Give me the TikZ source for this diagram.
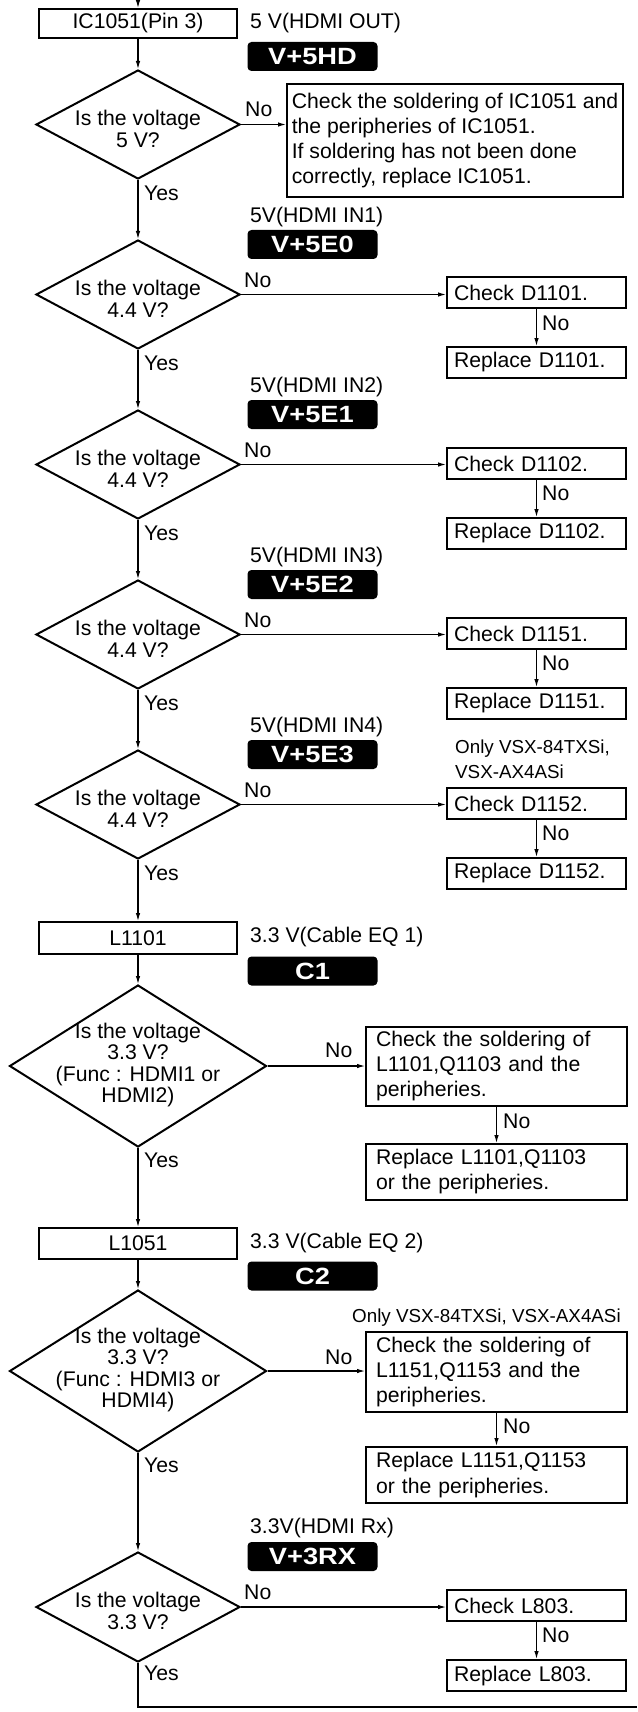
\documentclass[tikz,border=0pt]{standalone}
\usepackage{fontspec}
\usepackage{graphicx}
\setmainfont{Liberation Sans}
\usetikzlibrary{shapes.geometric,arrows.meta}
\newcommand{\tagtxt}[1]{\scalebox{1.16}[1]{#1}}
\begin{document}
\begin{tikzpicture}[x=1pt,y=-1pt,
  every node/.style={font=\fontsize{21.2}{25}\selectfont},
  carrow/.style={line width=1.1pt,-{Latex[length=8pt,width=4.5pt]}},
  cline/.style={line width=1.1pt},
  cbox/.style={draw,line width=2pt,rectangle,inner xsep=7pt,inner ysep=0pt,align=left},
  sbox/.style={cbox,minimum width=179pt,minimum height=31pt,text width=165pt},
  wbox/.style={cbox,inner xsep=10pt,minimum width=261pt,text width=241pt},
  mbox/.style={draw,line width=2pt,rectangle,inner sep=0pt,minimum width=198pt,align=center},
  cdia/.style={draw,line width=2pt,diamond,inner sep=0pt,minimum width=204pt,minimum height=109pt},
  bdia/.style={draw,line width=2pt,diamond,inner sep=0pt,minimum width=257pt,minimum height=162pt},
  dtext/.style={align=center,inner sep=0pt,font=\fontsize{21.2}{22}\selectfont},
  clabel/.style={anchor=west,inner sep=0pt},
  slabel/.style={anchor=west,inner sep=0pt,align=left,font=\fontsize{18.8}{25}\selectfont},
  ctag/.style={fill=black,rounded corners=4pt,minimum width=130pt,minimum height=29pt,inner sep=0pt,text=white,font=\fontsize{23.5}{23.5}\selectfont\bfseries},
]
\useasboundingbox (0,0) rectangle (637,1712);

% ---------- stage 1 ----------
\coordinate (top) at (138,0);
\node[mbox,minimum height=29pt] (ic) at (138,23.5) {IC1051(Pin 3)};
\node[clabel] (t1) at (250,23) {5 V(HDMI OUT)};
\node[ctag] (g1) at (312.5,56.5) {\tagtxt{V+5HD}};
\node[cdia] (d1) at (138,124.5) {};
\node[dtext] (q1) at (138,129) {Is the voltage\\5 V?};
\node[draw,line width=2pt,rectangle,inner sep=0pt,align=left,minimum width=336pt,minimum height=113pt] (c1) at (455,140.5)
  {Check the soldering of IC1051 and\\the peripheries of IC1051.\\If soldering has not been done\\correctly, replace IC1051.};
\node[clabel] (n1) at (245,109) {No};
\node[clabel] (y1) at (144,193) {Yes};
\draw[carrow] (top) -- (ic.north);
\draw[carrow] (ic.south) -- (d1.north);
\draw[carrow] (d1.east) -- (d1.east -| c1.west);

% ---------- stage 2 ----------
\node[clabel] (t2) at (250,217.5) {5V(HDMI IN1)};
\node[ctag] (g2) at (312.5,244.5) {\tagtxt{V+5E0}};
\node[cdia] (d2) at (138,294.5) {};
\node[dtext] (q2) at (138,299) {Is the voltage\\4.4 V?};
\node[clabel] (n2) at (244,280) {No};
\node[sbox] (c2) at (536.5,292.5) {Check D1101.};
\node[sbox] (r2) at (536.5,362.5) {Replace D1101.};
\node[clabel] (m2) at (542,323) {No};
\node[clabel] (y2) at (144,363) {Yes};
\draw[carrow] (d1.south) -- (d2.north);
\draw[carrow] (d2.east) -- (d2.east -| c2.west);
\draw[carrow] (c2.south) -- (r2.north);

% ---------- stage 3 ----------
\node[clabel] (t3) at (250,387.5) {5V(HDMI IN2)};
\node[ctag] (g3) at (312.5,414.5) {\tagtxt{V+5E1}};
\node[cdia] (d3) at (138,464.5) {};
\node[dtext] (q3) at (138,469) {Is the voltage\\4.4 V?};
\node[clabel] (n3) at (244,450) {No};
\node[sbox] (c3) at (536.5,463.5) {Check D1102.};
\node[sbox] (r3) at (536.5,533.5) {Replace D1102.};
\node[clabel] (m3) at (542,493) {No};
\node[clabel] (y3) at (144,533) {Yes};
\draw[carrow] (d2.south) -- (d3.north);
\draw[carrow] (d3.east) -- (d3.east -| c3.west);
\draw[carrow] (c3.south) -- (r3.north);

% ---------- stage 4 ----------
\node[clabel] (t4) at (250,557.5) {5V(HDMI IN3)};
\node[ctag] (g4) at (312.5,584.5) {\tagtxt{V+5E2}};
\node[cdia] (d4) at (138,634.5) {};
\node[dtext] (q4) at (138,639) {Is the voltage\\4.4 V?};
\node[clabel] (n4) at (244,620) {No};
\node[sbox] (c4) at (536.5,633.5) {Check D1151.};
\node[sbox] (r4) at (536.5,703.5) {Replace D1151.};
\node[clabel] (m4) at (542,663) {No};
\node[clabel] (y4) at (144,703) {Yes};
\draw[carrow] (d3.south) -- (d4.north);
\draw[carrow] (d4.east) -- (d4.east -| c4.west);
\draw[carrow] (c4.south) -- (r4.north);

% ---------- stage 5 ----------
\node[clabel] (t5) at (250,727.5) {5V(HDMI IN4)};
\node[ctag] (g5) at (312.5,754.5) {\tagtxt{V+5E3}};
\node[slabel] (o5) at (455,759.5) {Only VSX-84TXSi,\\VSX-AX4ASi};
\node[cdia] (d5) at (138,804.5) {};
\node[dtext] (q5) at (138,809) {Is the voltage\\4.4 V?};
\node[clabel] (n5) at (244,790) {No};
\node[sbox] (c5) at (536.5,803.5) {Check D1152.};
\node[sbox] (r5) at (536.5,873.5) {Replace D1152.};
\node[clabel] (m5) at (542,833) {No};
\node[clabel] (y5) at (144,873) {Yes};
\draw[carrow] (d4.south) -- (d5.north);
\draw[carrow] (d5.east) -- (d5.east -| c5.west);
\draw[carrow] (c5.south) -- (r5.north);

% ---------- stage 6 ----------
\node[mbox,minimum height=32pt] (l1) at (138,938) {L1101};
\node[clabel] (t6) at (250,937) {3.3 V(Cable EQ 1)};
\node[ctag] (g6) at (312.5,971) {\tagtxt{C1}};
\node[bdia] (d6) at (138,1066) {};
\node[dtext,font=\fontsize{21.2}{21.5}\selectfont] (q6) at (138,1065) {Is the voltage\\3.3 V?\\(Func : HDMI1 or\\HDMI2)};
\node[clabel] (n6) at (325,1050) {No};
\node[wbox,minimum height=79pt] (c6) at (496.5,1066.5) {Check the soldering of\\L1101,Q1103 and the\\peripheries.};
\node[wbox,minimum height=56pt] (r6) at (496.5,1172) {Replace L1101,Q1103\\or the peripheries.};
\node[clabel] (m6) at (503,1121) {No};
\node[clabel] (y6) at (144,1160) {Yes};
\draw[carrow] (d5.south) -- (l1.north);
\draw[carrow] (l1.south) -- (d6.north);
\draw[carrow] (d6.east) -- (d6.east -| c6.west);
\draw[carrow] (c6.south) -- (r6.north);

% ---------- stage 7 ----------
\node[mbox,minimum height=31pt] (l2) at (138,1243.5) {L1051};
\node[clabel] (t7) at (250,1243) {3.3 V(Cable EQ 2)};
\node[ctag] (g7) at (312.5,1276) {\tagtxt{C2}};
\node[slabel] (o7) at (352,1318) {Only VSX-84TXSi, VSX-AX4ASi};
\node[bdia] (d7) at (138,1371) {};
\node[dtext,font=\fontsize{21.2}{21.5}\selectfont] (q7) at (138,1370) {Is the voltage\\3.3 V?\\(Func : HDMI3 or\\HDMI4)};
\node[clabel] (n7) at (325,1357) {No};
\node[wbox,minimum height=80pt] (c7) at (496.5,1372) {Check the soldering of\\L1151,Q1153 and the\\peripheries.};
\node[wbox,minimum height=56pt] (r7) at (496.5,1475) {Replace L1151,Q1153\\or the peripheries.};
\node[clabel] (m7) at (503,1426) {No};
\node[clabel] (y7) at (144,1465) {Yes};
\draw[carrow] (d6.south) -- (l2.north);
\draw[carrow] (l2.south) -- (d7.north);
\draw[carrow] (d7.east) -- (d7.east -| c7.west);
\draw[carrow] (c7.south) -- (r7.north);

% ---------- stage 8 ----------
\node[clabel] (t8) at (250,1528) {3.3V(HDMI Rx)};
\node[ctag] (g8) at (312.5,1556.5) {\tagtxt{V+3RX}};
\node[cdia,minimum height=110pt] (d8) at (138,1607) {};
\node[dtext] (q8) at (138,1611) {Is the voltage\\3.3 V?};
\node[clabel] (n8) at (244,1592) {No};
\node[sbox] (c8) at (536.5,1605.5) {Check L803.};
\node[sbox] (r8) at (536.5,1675.5) {Replace L803.};
\node[clabel] (m8) at (542,1635) {No};
\node[clabel] (y8) at (144,1673) {Yes};
\coordinate (bend) at (138,1707);
\coordinate (exit) at (637,1707);
\draw[carrow] (d7.south) -- (d8.north);
\draw[carrow] (d8.east) -- (d8.east -| c8.west);
\draw[carrow] (c8.south) -- (r8.north);
\draw[cline] (d8.south) -- (bend) -- (exit);
\end{tikzpicture}
\end{document}
